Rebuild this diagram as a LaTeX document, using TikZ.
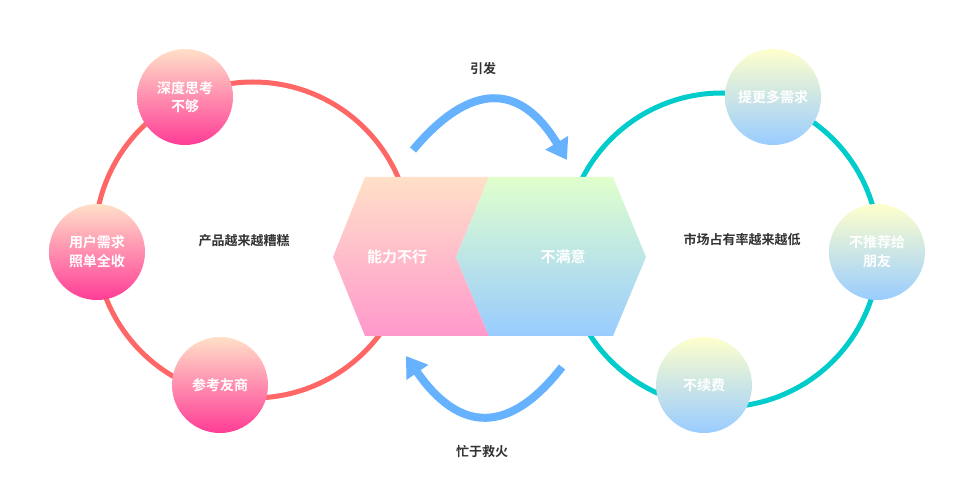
\documentclass[tikz,border=0pt]{standalone}
\usepackage{fontspec}
\setmainfont{Noto Sans CJK SC}[BoldFont={Noto Sans CJK SC Bold}]
\usetikzlibrary{arrows.meta}
\definecolor{ringred}{RGB}{255,102,102}
\definecolor{ringteal}{RGB}{0,204,204}
\definecolor{peach}{RGB}{255,224,200}
\definecolor{hotpink}{RGB}{255,60,150}
\definecolor{lightpink}{RGB}{255,153,204}
\definecolor{paleyellow}{RGB}{255,255,204}
\definecolor{palegreen}{RGB}{224,255,204}
\definecolor{lightblue}{RGB}{153,204,255}
\definecolor{arrowblue}{RGB}{102,178,255}
\definecolor{darktext}{RGB}{51,51,51}
\tikzset{
  ring/.style={line width=3.75pt},
  pinkball/.style={circle, minimum size=72pt, inner sep=0pt, top color=peach, bottom color=hotpink, text=white, font=\bfseries\fontsize{10.5}{14}\selectfont, align=center},
  blueball/.style={circle, minimum size=72pt, inner sep=0pt, top color=paleyellow, bottom color=lightblue, text=white, font=\bfseries\fontsize{10.5}{14}\selectfont, align=center},
  midlabel/.style={text=darktext, font=\bfseries\fontsize{9.75}{12}\selectfont},
  hextext/.style={text=white, font=\bfseries\fontsize{11.25}{14}\selectfont},
  bigarrow/.style={draw=arrowblue, line width=6pt, -{Triangle[width=19pt,length=15pt]}}
}
\begin{document}
\begin{tikzpicture}[x=0.75pt,y=-0.75pt]
\useasboundingbox (0,0) rectangle (958,502);
% rings
\draw[ring, draw=ringred] (253,240) circle[radius=158];
\draw[ring, draw=ringteal] (722,250) circle[radius=157];
% hexagon halves
\path[top color=peach, bottom color=lightpink] (365,177) -- (489,177) -- (456,257) -- (489,336) -- (365,336) -- (333,257) -- cycle;
\path[top color=palegreen, bottom color=lightblue] (489,177) -- (613,177) -- (646,257) -- (613,336) -- (489,336) -- (456,257) -- cycle;
\node[hextext] (nl) at (397,257) {能力不行};
\node[hextext] (bmy) at (563,257) {不满意};
% balls
\node[pinkball] (sdsk) at (185,97) {深度思考\\不够};
\node[pinkball] (yhxq) at (97,252) {用户需求\\照单全收};
\node[pinkball] (ckys) at (220,385) {参考友商};
\node[blueball] (tgd) at (773,97) {提更多需求};
\node[blueball] (btj) at (877,252) {不推荐给\\朋友};
\node[blueball] (bxf) at (704,385) {不续费};
% middle labels
\node[midlabel] (cp) at (244,241) {产品越来越糟糕};
\node[midlabel] (sc) at (742,240) {市场占有率越来越低};
% arrows
\coordinate (a1s) at (413,150);
\coordinate (a1e) at (567,160);
\coordinate (a2s) at (562,367);
\coordinate (a2e) at (406,356);
\draw[bigarrow] (a1s) .. controls (470,82) and (520,82) .. (a1e);
\draw[bigarrow] (a2s) .. controls (510,434) and (460,434) .. (a2e);
\node[midlabel] (yf) at (483,69) {引发};
\node[midlabel] (mysh) at (482,452) {忙于救火};
\end{tikzpicture}
\end{document}
